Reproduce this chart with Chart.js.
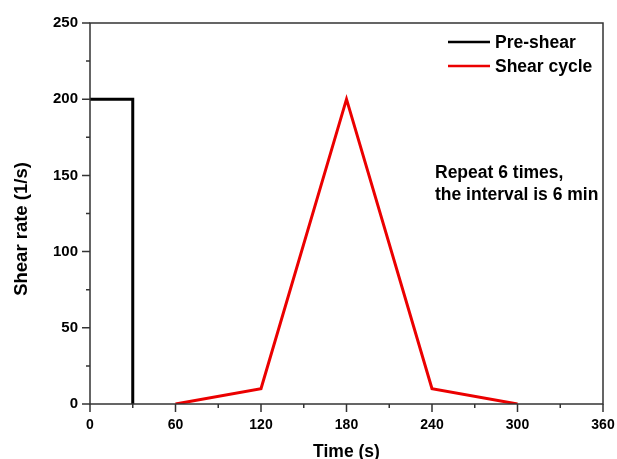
<!DOCTYPE html>
<html>
<head>
<meta charset="utf-8">
<script src="https://cdn.jsdelivr.net/npm/chart.js@4"></script>
<style>
  html, body { margin: 0; padding: 0; background: #fff; }
  #wrap { width: 617px; height: 459px; }
</style>
</head>
<body>
<div id="wrap"><canvas id="shearChart" width="617" height="459"></canvas></div>
<script>
// data
const preShearTime = [0, 30, 30];
const preShearRate = [200, 200, 0];
const cycleTime = [60, 120, 180, 240, 300];
const cycleRate = [0, 10, 200, 10, 0];
const xTicks = [0, 60, 120, 180, 240, 300, 360];
const yTicks = [0, 50, 100, 150, 200, 250];
const xTitle = "Time (s)";
const yTitle = "Shear rate (1/s)";
const noteLines = ["Repeat 6 times,", "the interval is 6 min"];

const FONT = "'Liberation Sans', Arial, sans-serif";

function toPoints(xs, ys) {
    return xs.map((x, i) => ({ x: x, y: ys[i] }));
}

// frame, ticks (major + minor), axis titles, legend and the note
const decorations = {
    id: "decorations",
    afterDraw(chart) {
        const ctx = chart.ctx;
        const a = chart.chartArea;
        const xs = chart.scales.x;
        const ys = chart.scales.y;
        ctx.save();
        ctx.strokeStyle = "#333";
        ctx.lineWidth = 1.5;
        ctx.strokeRect(a.left, a.top, a.right - a.left, a.bottom - a.top);

        ctx.beginPath();
        for (let v = 0; v <= 360; v += 30) {
            let p = xs.getPixelForValue(v);
            let len = v % 60 === 0 ? 8 : 4;
            ctx.moveTo(p, a.bottom);
            ctx.lineTo(p, a.bottom + len);
        }
        for (let v = 0; v <= 250; v += 25) {
            let p = ys.getPixelForValue(v);
            let len = v % 50 === 0 ? 8 : 4;
            ctx.moveTo(a.left, p);
            ctx.lineTo(a.left - len, p);
        }
        ctx.stroke();

        ctx.fillStyle = "#000";
        ctx.textBaseline = "middle";

        // axis titles
        ctx.textAlign = "center";
        ctx.font = "bold 17.5px " + FONT;
        ctx.fillText(xTitle, (a.left + a.right) / 2, 452);
        ctx.save();
        ctx.translate(22, 229);
        ctx.rotate(-Math.PI / 2);
        ctx.font = "bold 18.5px " + FONT;
        ctx.fillText(yTitle, 0, 0);
        ctx.restore();

        // legend
        ctx.font = "bold 17.5px " + FONT;
        ctx.textAlign = "left";
        chart.data.datasets.forEach((ds, i) => {
            let y = 42 + i * 24;
            ctx.strokeStyle = ds.borderColor;
            ctx.lineWidth = 2.5;
            ctx.beginPath();
            ctx.moveTo(448, y);
            ctx.lineTo(490, y);
            ctx.stroke();
            ctx.fillText(ds.label, 495, y + 1);
        });

        // note
        noteLines.forEach((t, i) => {
            ctx.fillText(t, 435, 173 + i * 22);
        });
        ctx.restore();
    }
};

new Chart(document.getElementById("shearChart"), {
    type: "line",
    data: {
        datasets: [
            {
                label: "Pre-shear",
                data: toPoints(preShearTime, preShearRate),
                borderColor: "#000",
                borderWidth: 3,
                pointRadius: 0,
                tension: 0
            },
            {
                label: "Shear cycle",
                data: toPoints(cycleTime, cycleRate),
                borderColor: "rgb(235,0,0)",
                borderWidth: 3,
                pointRadius: 0,
                tension: 0
            }
        ]
    },
    options: {
        responsive: false,
        animation: false,
        layout: { padding: { top: 23, right: 14, left: 0, bottom: 0 } },
        plugins: {
            legend: { display: false },
            tooltip: { enabled: false }
        },
        scales: {
            x: {
                type: "linear",
                min: 0,
                max: 360,
                afterBuildTicks: s => { s.ticks = xTicks.map(v => ({ value: v })); },
                afterFit: s => {
                    s.height = 55;
                    s.paddingLeft = 0;
                    s.paddingRight = 0;
                },
                grid: { display: false, drawTicks: false },
                border: { display: false },
                ticks: {
                    padding: 13,
                    color: "#000",
                    font: { family: FONT, size: 14, weight: "bold" },
                    maxRotation: 0
                },
                title: { display: false }
            },
            y: {
                type: "linear",
                min: 0,
                max: 250,
                afterBuildTicks: s => { s.ticks = yTicks.map(v => ({ value: v })); },
                afterFit: s => { s.width = 90; },
                grid: { display: false, drawTicks: false },
                border: { display: false },
                ticks: {
                    padding: 12,
                    color: "#000",
                    font: { family: FONT, size: 15, weight: "bold" }
                },
                title: { display: false }
            }
        }
    },
    plugins: [decorations]
});
</script>
</body>
</html>
